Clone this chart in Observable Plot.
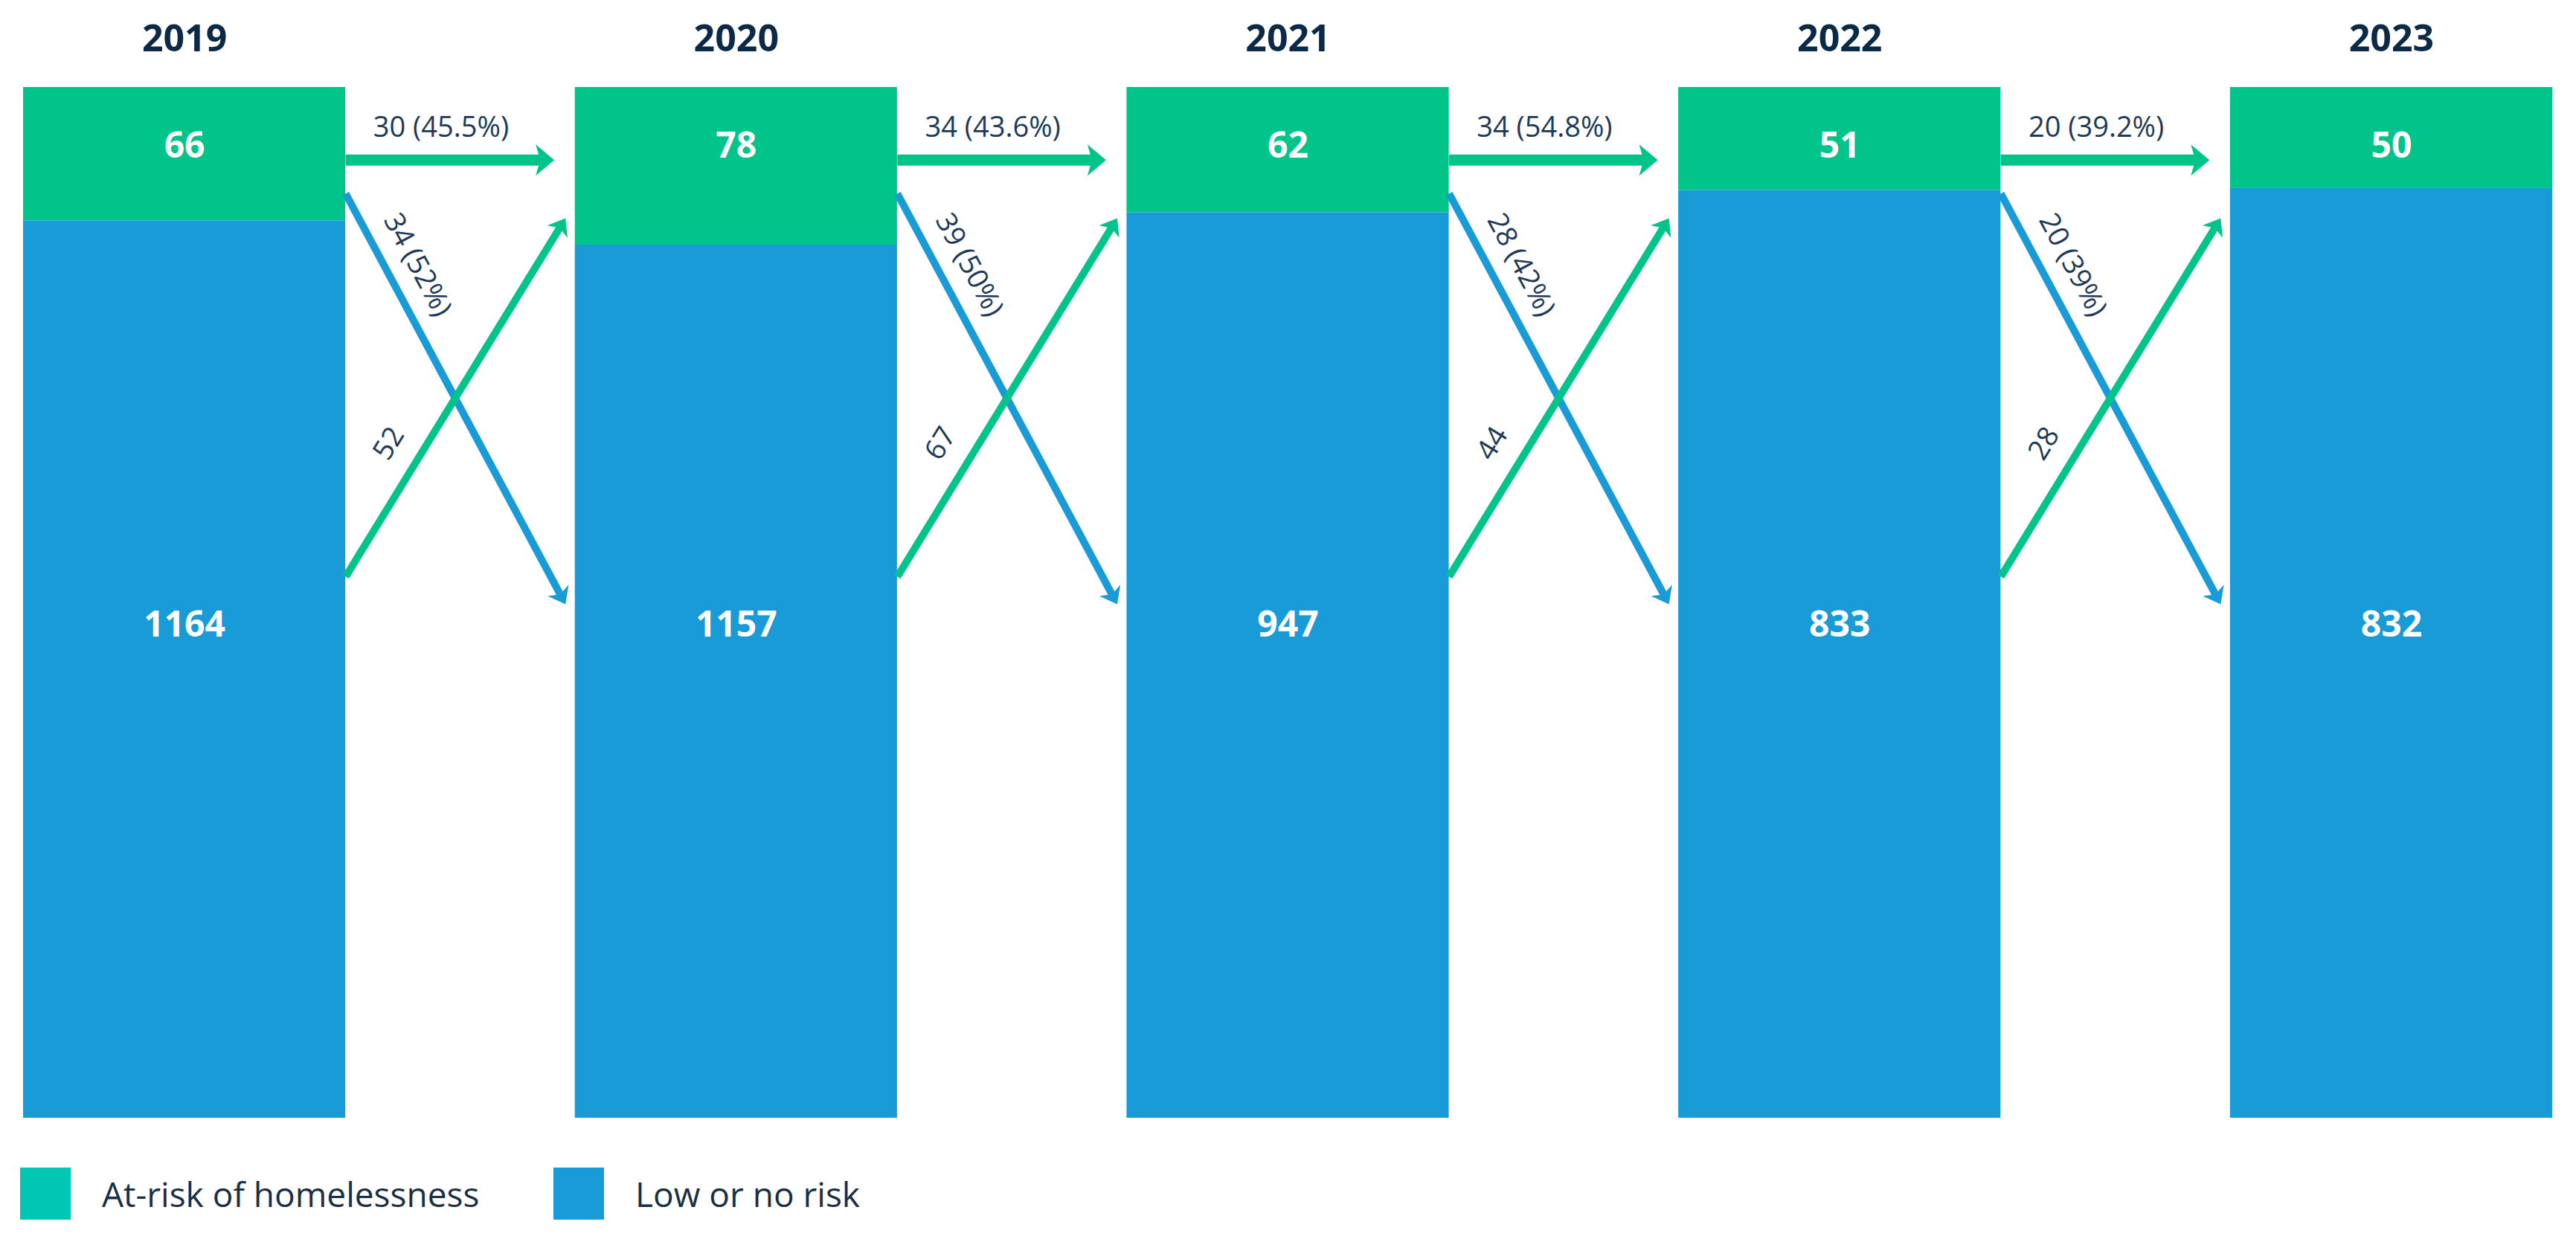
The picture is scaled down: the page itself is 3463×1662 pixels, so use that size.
<!DOCTYPE html>
<html>
<head>
<meta charset="utf-8">
<script src="https://cdn.jsdelivr.net/npm/d3@7"></script>
<script src="https://cdn.jsdelivr.net/npm/@observablehq/plot@0.6"></script>
<style>
  body { margin: 0; background: #fff; font-family: "Open Sans", sans-serif; }
  #chart svg { display: block; }
  #legend { position: relative; width: 3463px; height: 117px; }
  .item { position: absolute; top: 25px; display: flex; align-items: center; }
  .sw { width: 68px; height: 70px; margin-right: 42px; }
  .lab { font-size: 46px; color: #1b2f44; line-height: 70px; }
</style>
</head>
<body>
<div id="chart"></div>
<div id="legend">
  <div class="item" style="left:27px"><div class="sw" style="background:#00C7B3"></div><div class="lab">At-risk of homelessness</div></div>
  <div class="item" style="left:744px"><div class="sw" style="background:#189BD7"></div><div class="lab">Low or no risk</div></div>
</div>
<script>
// ---- data ----
const years = ["2019", "2020", "2021", "2022", "2023"];
const atRisk = [66, 78, 62, 51, 50];
const lowRisk = [1164, 1157, 947, 833, 832];
// transitions between consecutive years
const stayedAtRisk = [30, 34, 34, 20];
const stayedAtRiskPct = ["45.5%", "43.6%", "54.8%", "39.2%"];
const becameLowRisk = [34, 39, 28, 20];
const becameLowRiskPct = ["52%", "50%", "42%", "39%"];
const becameAtRisk = [52, 67, 44, 28];

// ---- style / layout ----
const GREEN = "#00C48A", BLUE = "#189BD7", NAVY = "#0B2A47", LABEL = "#1E3A58";
const W = 3463, H = 1545, ML = 31, MR = 32, MT = 117, MB = 42;
const BW = 0.584;          // bar width in x units (pitch = 1)
const FULL = 510;          // y units spanned by a full bar
const LANE_STAY = 36, DOWN0 = 52.6, DOWN1 = 255.7, UP0 = 242.1, UP1 = 64.8;
const HGAP = 0.0378, DGAP = 0.0175;

const kx = (W - ML - MR) / (years.length - 1 + BW);
const ky = (H - MT - MB) / FULL;

const bars = years.map((year, i) => ({ i, year, atRisk: atRisk[i], low: lowRisk[i] }));
const flows = d3.range(years.length - 1).map(i => ({
  i,
  stay: `${stayedAtRisk[i]} (${stayedAtRiskPct[i]})`,
  down: `${becameLowRisk[i]} (${becameLowRiskPct[i]})`,
  up: `${becameAtRisk[i]}`
}));

// screen geometry of diagonals
const ddx = (1 - DGAP - BW) * kx;
const downDy = (DOWN1 - DOWN0) * ky, upDy = (UP1 - UP0) * ky;
const thDown = Math.atan2(downDy, ddx), thUp = Math.atan2(upDy, ddx);
const lenDown = Math.hypot(ddx, downDy), lenUp = Math.hypot(ddx, upDy);
const deg = r => r * 180 / Math.PI;

function head(len, half, notch, ang) {
  const c = Math.cos(ang), s = Math.sin(ang);
  const pts = [[0, 0], [-len, -half], [-notch, 0], [-len, half]]
    .map(([x, y]) => [x * c - y * s, x * s + y * c]);
  return { draw(ctx) { ctx.moveTo(pts[0][0], pts[0][1]); for (const p of pts.slice(1)) ctx.lineTo(p[0], p[1]); ctx.closePath(); } };
}

const tDown = 130 / lenDown, tUp = 183 / lenUp;
const offDown = 40, offUp = 44;

const plot = Plot.plot({
  width: W, height: H,
  marginLeft: ML, marginRight: MR, marginTop: MT, marginBottom: MB,
  style: { fontFamily: "Open Sans", background: "#fff" },
  x: { domain: [0, years.length - 1 + BW], axis: null },
  y: { domain: [0, FULL], reverse: true, axis: null },
  marks: [
    Plot.rect(bars, { x1: d => d.i, x2: d => d.i + BW, y1: 0, y2: d => d.atRisk, fill: GREEN }),
    Plot.rect(bars, { x1: d => d.i, x2: d => d.i + BW, y1: d => d.atRisk, y2: FULL, fill: BLUE }),
    Plot.text(bars, { x: d => d.i + BW / 2, frameAnchor: "top", dy: -65, text: "year", fontSize: 50, fontWeight: 700, fill: NAVY, lineAnchor: "middle" }),
    Plot.text(bars, { x: d => d.i + BW / 2, frameAnchor: "top", dy: 79, text: d => String(d.atRisk), fontSize: 48, fontWeight: 700, fill: "#fff", lineAnchor: "middle" }),
    Plot.text(bars, { x: d => d.i + BW / 2, frameAnchor: "middle", dy: 30, text: d => String(d.low), fontSize: 48, fontWeight: 700, fill: "#fff", lineAnchor: "middle" }),

    // stayed at risk (horizontal)
    Plot.arrow(flows, { x1: d => d.i + BW, x2: d => d.i + 1 - HGAP, y1: LANE_STAY, y2: LANE_STAY, stroke: GREEN, strokeWidth: 15, headLength: 0, insetEnd: 16, strokeLinecap: "butt" }),
    Plot.dot(flows, { x: d => d.i + 1 - HGAP, y: LANE_STAY, r: 1, symbol: head(25, 21, 19, 0), fill: GREEN, stroke: null }),
    Plot.text(flows, { x: d => d.i + BW + (1 - BW) / 2, y: LANE_STAY, dx: -26, dy: -31, text: "stay", fontSize: 38, fill: LABEL, lineAnchor: "bottom" }),

    // became low risk (down)
    Plot.arrow(flows, { x1: d => d.i + BW, y1: DOWN0, x2: d => d.i + 1 - DGAP, y2: DOWN1, stroke: BLUE, strokeWidth: 10, headLength: 0, insetEnd: 12, strokeLinecap: "butt" }),
    Plot.dot(flows, { x: d => d.i + 1 - DGAP, y: DOWN1, r: 1, symbol: head(21, 16, 15, thDown), fill: BLUE, stroke: null }),
    // became at risk (up)
    Plot.arrow(flows, { x1: d => d.i + BW, y1: UP0, x2: d => d.i + 1 - DGAP, y2: UP1, stroke: GREEN, strokeWidth: 10, headLength: 0, insetEnd: 12, strokeLinecap: "butt" }),
    Plot.dot(flows, { x: d => d.i + 1 - DGAP, y: UP1, r: 1, symbol: head(21, 16, 15, thUp), fill: GREEN, stroke: null }),

    Plot.text(flows, {
      x: d => d.i + BW + tDown * (1 - DGAP - BW), y: DOWN0 + tDown * (DOWN1 - DOWN0),
      dx: offDown * Math.sin(thDown), dy: -offDown * Math.cos(thDown),
      rotate: deg(thDown), text: "down", fontSize: 38, fill: LABEL, lineAnchor: "middle"
    }),
    Plot.text(flows, {
      x: d => d.i + BW + tUp * (1 - DGAP - BW), y: UP0 + tUp * (UP1 - UP0),
      dx: offUp * Math.sin(thUp), dy: -offUp * Math.cos(thUp),
      rotate: deg(thUp), text: "up", fontSize: 38, fill: LABEL, lineAnchor: "middle"
    })
  ]
});
document.getElementById("chart").appendChild(plot);
</script>
</body>
</html>
